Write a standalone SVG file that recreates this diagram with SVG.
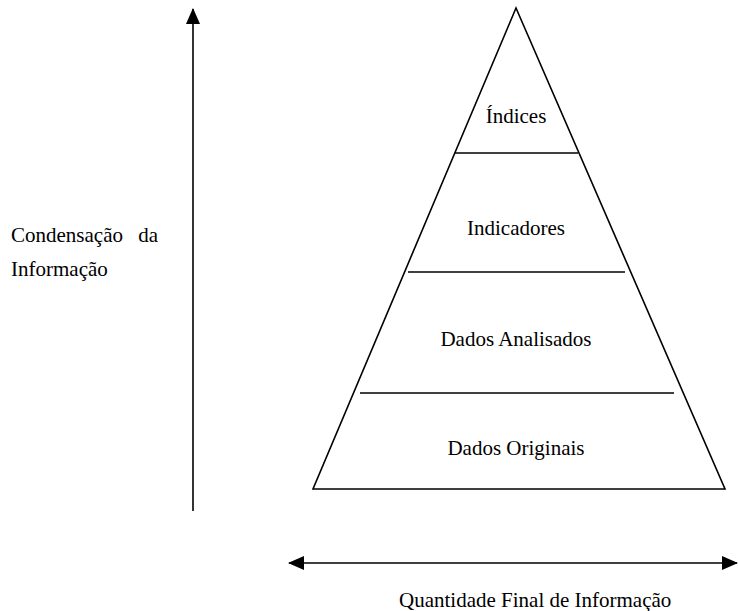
<svg xmlns="http://www.w3.org/2000/svg" width="738" height="611" viewBox="0 0 738 611">
  <style>
    .ln { stroke: #000; stroke-width: 1.6; fill: none; }
    .lbl { font-family: "Liberation Serif", "Times New Roman", serif; font-size: 21px; fill: #000; }
    .mid { text-anchor: middle; }
  </style>
  <defs>
    <marker id="tip" viewBox="0 0 16 14" refX="15" refY="7" markerWidth="16" markerHeight="14" markerUnits="userSpaceOnUse" orient="auto-start-reverse">
      <path d="M0,0 L16,7 L0,14 Z" fill="#000"/>
    </marker>
  </defs>
  <rect width="738" height="611" fill="#fff"/>

  <!-- pyramid outline and tier dividers -->
  <g id="pyramid">
    <polygon class="ln" points="516,8 313,489 725,489"/>
    <line class="ln" x1="455" y1="153" x2="578" y2="153"/>
    <line class="ln" x1="408" y1="272" x2="625" y2="272"/>
    <line class="ln" x1="360" y1="393" x2="674" y2="393"/>
  </g>

  <g id="indices"><text class="lbl mid" x="516" y="123">Índices</text></g>
  <g id="indicadores"><text class="lbl mid" x="516" y="235">Indicadores</text></g>
  <g id="dados-analisados"><text class="lbl mid" x="516" y="346">Dados Analisados</text></g>
  <g id="dados-originais"><text class="lbl mid" x="516" y="455">Dados Originais</text></g>

  <!-- axes -->
  <g id="connectors">
    <line class="ln" x1="193" y1="511" x2="193" y2="9" marker-end="url(#tip)"/>
    <line class="ln" x1="289" y1="563" x2="737" y2="563" marker-start="url(#tip)" marker-end="url(#tip)"/>
  </g>

  <g id="eixo-vertical">
    <text class="lbl" x="11" y="242">Condensação</text>
    <text class="lbl" x="158" y="242" text-anchor="end">da</text>
    <text class="lbl" x="11" y="276">Informação</text>
  </g>
  <g id="eixo-horizontal">
    <text class="lbl" x="399" y="607">Quantidade Final de Informação</text>
  </g>
</svg>
